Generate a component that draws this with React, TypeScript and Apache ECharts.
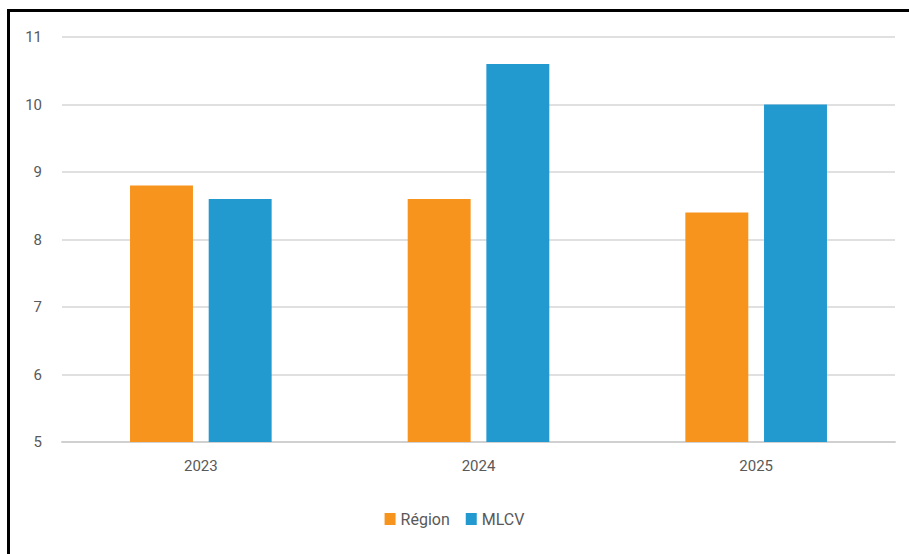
import React, { useEffect, useRef } from "react";
import * as echarts from "echarts";

const categories = ["2023", "2024", "2025"];
const regionValues = [8.8, 8.6, 8.4];
const mlcvValues = [8.6, 10.6, 10.0];
const seriesNames = ["Région", "MLCV"];

export default function App() {
  const ref = useRef<HTMLDivElement>(null);
  useEffect(() => {
    if (!ref.current) return;
    const chart = echarts.init(ref.current, null, { renderer: "svg" });
    const labelColor = "#595959";
    chart.setOption({
      animation: false,
      textStyle: { fontFamily: "Roboto, sans-serif" },
      grid: { left: 62, right: 14, top: 37, bottom: 112, containLabel: false },
      legend: {
        data: seriesNames,
        bottom: 22,
        left: "center",
        itemWidth: 11,
        itemHeight: 12,
        itemGap: 16,
        icon: "rect",
        textStyle: { color: labelColor, fontSize: 16 },
      },
      xAxis: {
        type: "category",
        data: categories,
        axisTick: { show: false },
        axisLine: { lineStyle: { color: "#d0d0d0", width: 2 } },
        axisLabel: { color: labelColor, fontSize: 15, margin: 16 },
      },
      yAxis: {
        type: "value",
        min: 5,
        max: 11,
        interval: 1,
        axisLine: { show: false },
        axisTick: { show: false },
        axisLabel: { color: labelColor, fontSize: 15, margin: 20 },
        splitLine: { lineStyle: { color: "#e0e0e0", width: 2 } },
      },
      series: [
        {
          name: seriesNames[0],
          type: "bar",
          data: regionValues,
          itemStyle: { color: "#F7941D" },
          barGap: "25%",
          barCategoryGap: "49%",
        },
        {
          name: seriesNames[1],
          type: "bar",
          data: mlcvValues,
          itemStyle: { color: "#2299CF" },
          barGap: "25%",
          barCategoryGap: "49%",
        },
      ],
    });
    return () => chart.dispose();
  }, []);
  return (
    <div
      style={{
        position: "absolute",
        left: 0,
        top: 0,
        width: 909,
        height: 554,
        overflow: "hidden",
        background: "#fff",
      }}
    >
      <div
        style={{
          position: "absolute",
          left: 7,
          top: 9,
          width: 1000,
          height: 1000,
          border: "3px solid #000",
        }}
      />
      <div
        ref={ref}
        style={{ position: "absolute", left: 0, top: 0, width: 909, height: 554 }}
      />
    </div>
  );
}
